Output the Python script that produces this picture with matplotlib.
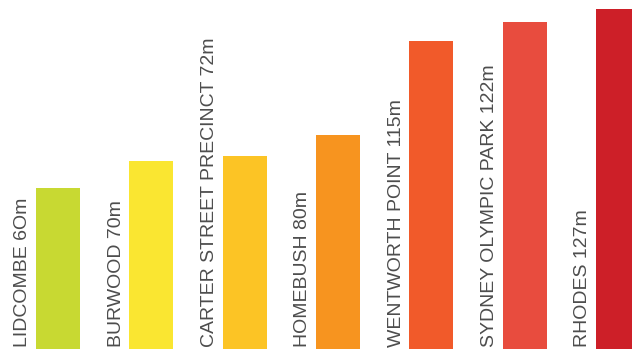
import matplotlib
matplotlib.use("Agg")
import matplotlib.pyplot as plt

suburbs = ["LIDCOMBE", "BURWOOD", "CARTER STREET PRECINCT", "HOMEBUSH",
           "WENTWORTH POINT", "SYDNEY OLYMPIC PARK", "RHODES"]
height_labels = ["6Om", "70m", "72m", "80m", "115m", "122m", "127m"]
heights = [60, 70, 72, 80, 115, 122, 127]
colors = ["#C8D932", "#FAE631", "#FCC425", "#F7941F", "#F15A2A", "#E84C3E", "#CD1F28"]

fig = plt.figure(figsize=(6.32, 3.52), dpi=100)
ax = fig.add_axes([0, 0, 1, 1])

x = list(range(len(heights)))
width = 0.47
ax.bar(x, heights, width=width, color=colors, edgecolor="none")

for i, (name, lab) in enumerate(zip(suburbs, height_labels)):
    ax.text(i - width / 2 - 0.05, 0.6, f"{name} {lab}", rotation=90,
            rotation_mode="anchor", ha="left", va="bottom",
            fontsize=14, color="#4D4D4D", family="Liberation Sans")

ax.set_xlim(-0.62, 6.15)
ax.set_ylim(-1.12, 130.2)
ax.axis("off")

fig.savefig("out.png", dpi=100, facecolor="white")
